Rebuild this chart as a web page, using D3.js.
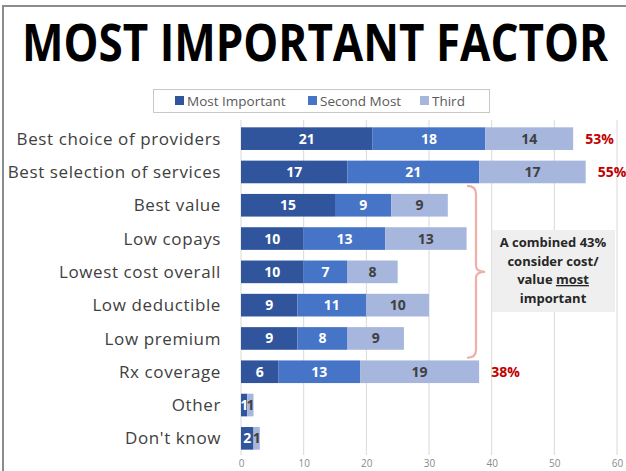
<!DOCTYPE html>
<html>
<head>
<meta charset="utf-8">
<script src="https://cdn.jsdelivr.net/npm/d3@7"></script>
<style>
  body { margin: 0; background: #fff; }
  svg { display: block; font-family: "Open Sans", sans-serif; }
</style>
</head>
<body>
<svg id="chart" width="626" height="471"></svg>
<script>
"use strict";

var categories = ["Best choice of providers", "Best selection of services", "Best value",
  "Low copays", "Lowest cost overall", "Low deductible", "Low premium",
  "Rx coverage", "Other", "Don't know"];
var seriesNames = ["Most Important", "Second Most", "Third"];
var mostImportant = [21, 17, 15, 10, 10, 9, 9, 6, 1, 2];
var secondMost = [18, 21, 9, 13, 7, 11, 8, 13, 0, 0];
var third = [14, 17, 9, 13, 8, 10, 9, 19, 1, 1];
var totals = [{ cat: "Best choice of providers", label: "53%" },
  { cat: "Best selection of services", label: "55%" },
  { cat: "Rx coverage", label: "38%" }];
var xTicks = [0, 10, 20, 30, 40, 50, 60];
var noteLines = ["A combined 43%", "consider cost/", "value most", "important"];

var colors = ["#30559c", "#4674c6", "#a6b6dc"];
var svg = d3.select("#chart");

// frame
svg.append("line").attr("x1", 2).attr("x2", 626).attr("y1", 6).attr("y2", 6)
  .attr("stroke", "#8c8c8c").attr("stroke-width", 2);
svg.append("line").attr("x1", 3).attr("x2", 3).attr("y1", 6).attr("y2", 471)
  .attr("stroke", "#8c8c8c").attr("stroke-width", 2);

// title
svg.append("text")
  .attr("transform", "translate(22,61) scale(1,1.2)")
  .attr("textLength", 586).attr("lengthAdjust", "spacingAndGlyphs")
  .style("font-size", "43px").style("font-weight", "bold").style("fill", "#000")
  .text("MOST IMPORTANT FACTOR");

var x = d3.scaleLinear().domain([0, 60]).range([241, 617]);
var y = d3.scaleBand().domain(categories).range([122, 455]).paddingInner(0.32).paddingOuter(0.16);

// grid
svg.append("g").selectAll("line")
  .data(xTicks)
  .enter().append("line")
  .attr("x1", function(d) { return x(d); })
  .attr("x2", function(d) { return x(d); })
  .attr("y1", 120).attr("y2", 455)
  .attr("stroke", "#d9d9d9").attr("stroke-width", 1);

var xAxis = svg.append("g")
  .attr("transform", "translate(0,455)")
  .call(d3.axisBottom(x).tickValues(xTicks).tickSize(0).tickPadding(5));
xAxis.select(".domain").remove();
xAxis.selectAll("text").style("font-size", "10px").style("fill", "#8a8a8a")
  .style("font-family", "'Open Sans', sans-serif");

// stacked bars
var rows = categories.map(function(c, i) {
  return { cat: c, "Most Important": mostImportant[i], "Second Most": secondMost[i], "Third": third[i] };
});
var stacked = d3.stack().keys(seriesNames)(rows);

var layers = svg.append("g").selectAll("g")
  .data(stacked)
  .enter().append("g")
  .attr("fill", function(d, i) { return colors[i]; });

layers.selectAll("rect")
  .data(function(d) { return d; })
  .enter().append("rect")
  .attr("x", function(d) { return x(d[0]); })
  .attr("y", function(d) { return y(d.data.cat); })
  .attr("width", function(d) { return x(d[1]) - x(d[0]); })
  .attr("height", y.bandwidth());

layers.each(function(layer, li) {
  d3.select(this).selectAll("text")
    .data(layer.filter(function(d) { return d[1] - d[0] > 0; }))
    .enter().append("text")
    .attr("x", function(d) { return (x(d[0]) + x(d[1])) / 2; })
    .attr("y", function(d) { return y(d.data.cat) + y.bandwidth() / 2; })
    .attr("dy", "0.36em")
    .attr("text-anchor", "middle")
    .style("font-size", "14px").style("font-weight", "bold")
    .style("fill", li == 2 ? "#404040" : "#ffffff")
    .text(function(d) { return d[1] - d[0]; });
});

// category labels
svg.append("g").selectAll("text")
  .data(categories)
  .enter().append("text")
  .attr("x", 221)
  .attr("y", function(d) { return y(d) + y.bandwidth() / 2; })
  .attr("dy", "0.36em")
  .attr("text-anchor", "end")
  .style("font-size", "17px").style("letter-spacing", "0.6px").style("fill", "#404040")
  .text(function(d) { return d; });

// totals
svg.append("g").selectAll("text")
  .data(totals)
  .enter().append("text")
  .attr("x", function(d) {
    var i = categories.indexOf(d.cat);
    return x(mostImportant[i] + secondMost[i] + third[i]) + 12;
  })
  .attr("y", function(d) { return y(d.cat) + y.bandwidth() / 2; })
  .attr("dy", "0.36em")
  .style("font-size", "14px").style("font-weight", "bold").style("fill", "#c00000")
  .text(function(d) { return d.label; });

// legend
var legend = svg.append("g");
legend.append("rect").attr("x", 153.5).attr("y", 89.5).attr("width", 336).attr("height", 23)
  .attr("fill", "#fff").attr("stroke", "#c8c8c8");
var legendX = [175, 308, 420];
seriesNames.forEach(function(name, i) {
  legend.append("rect").attr("x", legendX[i]).attr("y", 96).attr("width", 9).attr("height", 9)
    .attr("fill", colors[i]);
  legend.append("text").attr("x", legendX[i] + 12).attr("y", 105.5)
    .style("font-size", "13.5px").style("fill", "#595959").text(name);
});

// brace
var bTop = y("Best value") - 8;
var bBot = y("Low premium") + y.bandwidth() + 8;
var bMid = (bTop + bBot) / 2;
var bx = 476;
var brace = d3.path();
brace.moveTo(bx - 9, bTop);
brace.quadraticCurveTo(bx, bTop, bx, bTop + 8);
brace.lineTo(bx, bMid - 6);
brace.quadraticCurveTo(bx, bMid, bx + 9, bMid);
brace.quadraticCurveTo(bx, bMid, bx, bMid + 6);
brace.lineTo(bx, bBot - 8);
brace.quadraticCurveTo(bx, bBot, bx - 9, bBot);
svg.append("path").attr("d", brace.toString())
  .attr("fill", "none").attr("stroke", "#f0b0a8").attr("stroke-width", 2.2);

// note box
svg.append("rect").attr("x", 492).attr("y", 230).attr("width", 123).attr("height", 82)
  .attr("fill", "#efefef");
var note = svg.append("text")
  .attr("text-anchor", "middle")
  .style("font-size", "13px").style("font-weight", "bold").style("fill", "#262626");
noteLines.forEach(function(line, i) {
  var t = note.append("tspan").attr("x", 553).attr("y", 247 + i * 18.5);
  if (line == "value most") {
    t.text("value ");
    note.append("tspan").style("text-decoration", "underline").text("most");
  } else {
    t.text(line);
  }
});
</script>
</body>
</html>
